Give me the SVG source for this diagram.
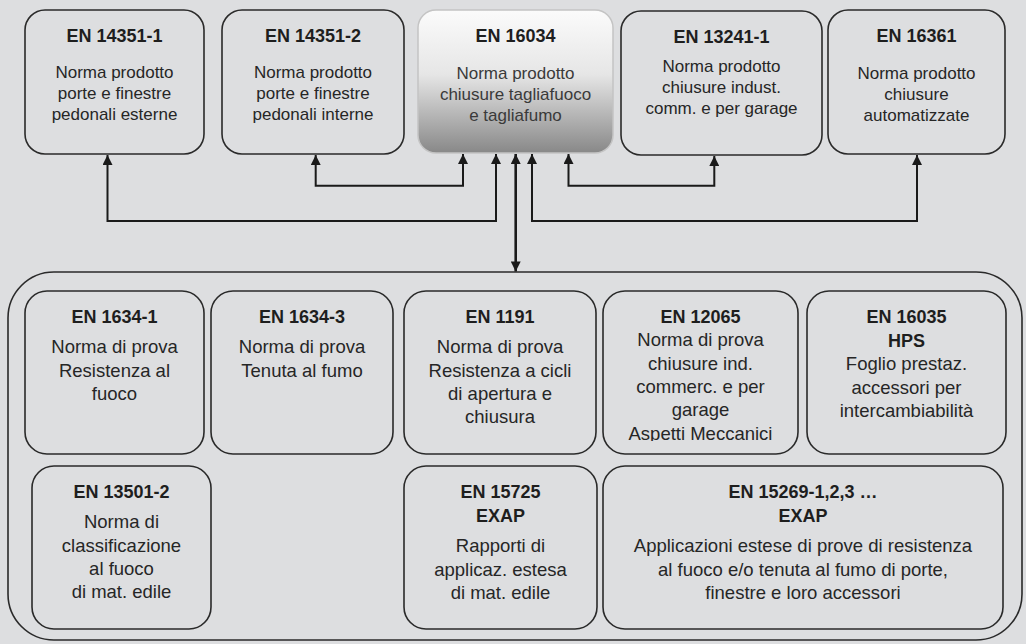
<svg xmlns="http://www.w3.org/2000/svg" width="1026" height="644" viewBox="0 0 1026 644">
<style>
.box{fill:none;stroke:#2a2a2a;stroke-width:1.6}
.t{font-family:"Liberation Sans",Arial,sans-serif;font-size:18px;font-weight:bold;fill:#1e1e1e;text-anchor:middle}
.b{font-family:"Liberation Sans",Arial,sans-serif;font-size:17px;fill:#262626;text-anchor:middle}
.bb{font-family:"Liberation Sans",Arial,sans-serif;font-size:18.5px;fill:#262626;text-anchor:middle}
.con{fill:none;stroke:#1a1a1a;stroke-width:2}
</style>
<defs>
<linearGradient id="g1" x1="0" y1="0" x2="0" y2="1">
<stop offset="0" stop-color="#fbfbfb"/>
<stop offset="0.45" stop-color="#e6e6e6"/>
<stop offset="1" stop-color="#888888"/>
</linearGradient>
<marker id="ah" viewBox="0 0 10 10" refX="10" refY="5" markerUnits="userSpaceOnUse" markerWidth="11" markerHeight="10" orient="auto-start-reverse">
<path d="M0,0 L10,5 L0,10 z" fill="#1a1a1a"/>
</marker>
<clipPath id="clipB4"><rect x="600" y="290" width="200" height="151"/></clipPath>
</defs>
<rect x="0" y="0" width="1026" height="644" fill="#dddee0"/>

<g id="container">
<rect x="8" y="272" width="1014" height="368" rx="46" ry="46" class="box"/>
</g>

<g id="connectors">
<path class="con" d="M107.5,155 V221 H496 V154" marker-start="url(#ah)" marker-end="url(#ah)"/>
<path class="con" d="M315.7,155 V185.7 H463 V154" marker-start="url(#ah)" marker-end="url(#ah)"/>
<path class="con" d="M714.3,156 V185.7 H568.5 V154" marker-start="url(#ah)" marker-end="url(#ah)"/>
<path class="con" d="M917,155 V221 H532 V154" marker-start="url(#ah)" marker-end="url(#ah)"/>
<path class="con" style="stroke-width:2.6" d="M515.7,154 V271.5" marker-start="url(#ah)" marker-end="url(#ah)"/>
</g>

<g id="n14351-1">
<rect x="25" y="10" width="179" height="144" rx="20" class="box"/>
<text class="t" x="114.5" y="41.5">EN 14351-1</text>
<text class="b" x="114.5" y="78">Norma prodotto</text>
<text class="b" x="114.5" y="99">porte e finestre</text>
<text class="b" x="114.5" y="120">pedonali esterne</text>
</g>
<g id="n14351-2">
<rect x="222" y="10" width="182" height="144" rx="20" class="box"/>
<text class="t" x="313" y="41.5">EN 14351-2</text>
<text class="b" x="313" y="78">Norma prodotto</text>
<text class="b" x="313" y="99">porte e finestre</text>
<text class="b" x="313" y="120">pedonali interne</text>
</g>
<g id="n16034">
<rect x="418" y="10" width="195" height="143" rx="18" fill="url(#g1)" stroke="#c4c4c4" stroke-width="1.5"/>
<text class="t" x="515.5" y="41.5">EN 16034</text>
<text class="b" x="515.5" y="78.5" style="fill:#3a3a3a">Norma prodotto</text>
<text class="b" x="515.5" y="99.5" style="fill:#3a3a3a">chiusure tagliafuoco</text>
<text class="b" x="515.5" y="120.5" style="fill:#3a3a3a">e tagliafumo</text>
</g>
<g id="n13241-1">
<rect x="621" y="11" width="201" height="144" rx="20" class="box"/>
<text class="t" x="721.5" y="42.5">EN 13241-1</text>
<text class="b" x="721.5" y="71.5">Norma prodotto</text>
<text class="b" x="721.5" y="92.5">chiusure indust.</text>
<text class="b" x="721.5" y="113.5">comm. e per garage</text>
</g>
<g id="n16361">
<rect x="828" y="10" width="177" height="144" rx="20" class="box"/>
<text class="t" x="916.5" y="41.5">EN 16361</text>
<text class="b" x="916.5" y="78.5">Norma prodotto</text>
<text class="b" x="916.5" y="99.5">chiusure</text>
<text class="b" x="916.5" y="120.5">automatizzate</text>
</g>

<g id="n1634-1">
<rect x="25" y="291" width="179" height="163" rx="22" class="box"/>
<text class="t" x="114.5" y="323">EN 1634-1</text>
<text class="bb" x="114.5" y="353">Norma di prova</text>
<text class="bb" x="114.5" y="376.5">Resistenza al</text>
<text class="bb" x="114.5" y="400">fuoco</text>
</g>
<g id="n1634-3">
<rect x="211" y="291" width="182" height="163" rx="22" class="box"/>
<text class="t" x="302" y="323">EN 1634-3</text>
<text class="bb" x="302" y="353">Norma di prova</text>
<text class="bb" x="302" y="376.5">Tenuta al fumo</text>
</g>
<g id="n1191">
<rect x="404" y="291" width="192" height="163" rx="22" class="box"/>
<text class="t" x="500" y="323">EN 1191</text>
<text class="bb" x="500" y="353">Norma di prova</text>
<text class="bb" x="500" y="376.5">Resistenza a cicli</text>
<text class="bb" x="500" y="400">di apertura e</text>
<text class="bb" x="500" y="423">chiusura</text>
</g>
<g id="n12065">
<rect x="603" y="291" width="195" height="163" rx="22" class="box"/>
<text class="t" x="700.5" y="323">EN 12065</text>
<text class="bb" x="700.5" y="346">Norma di prova</text>
<text class="bb" x="700.5" y="369.5">chiusure ind.</text>
<text class="bb" x="700.5" y="393">commerc. e per</text>
<text class="bb" x="700.5" y="416">garage</text>
<text class="bb" x="700.5" y="439.5" clip-path="url(#clipB4)">Aspetti Meccanici</text>
</g>
<g id="n16035">
<rect x="807" y="291" width="199" height="163" rx="22" class="box"/>
<text class="t" x="906.5" y="323">EN 16035</text>
<text class="t" x="906.5" y="347">HPS</text>
<text class="bb" x="906.5" y="370">Foglio prestaz.</text>
<text class="bb" x="906.5" y="393.5">accessori per</text>
<text class="bb" x="906.5" y="417">intercambiabilità</text>
</g>

<g id="n13501-2">
<rect x="32" y="466" width="179" height="163" rx="22" class="box"/>
<text class="t" x="121.5" y="498">EN 13501-2</text>
<text class="bb" x="121.5" y="528">Norma di</text>
<text class="bb" x="121.5" y="551.5">classificazione</text>
<text class="bb" x="121.5" y="575">al fuoco</text>
<text class="bb" x="121.5" y="598">di mat. edile</text>
</g>
<g id="n15725">
<rect x="404" y="466" width="193" height="163" rx="22" class="box"/>
<text class="t" x="500.5" y="498">EN 15725</text>
<text class="t" x="500.5" y="522">EXAP</text>
<text class="bb" x="500.5" y="552">Rapporti di</text>
<text class="bb" x="500.5" y="575.5">applicaz. estesa</text>
<text class="bb" x="500.5" y="599">di mat. edile</text>
</g>
<g id="n15269">
<rect x="603" y="466" width="400" height="163" rx="22" class="box"/>
<text class="t" x="803" y="498">EN 15269-1,2,3 …</text>
<text class="t" x="803" y="522">EXAP</text>
<text class="bb" x="803" y="552">Applicazioni estese di prove di resistenza</text>
<text class="bb" x="803" y="575.5">al fuoco e/o tenuta al fumo di porte,</text>
<text class="bb" x="803" y="599">finestre e loro accessori</text>
</g>
</svg>
